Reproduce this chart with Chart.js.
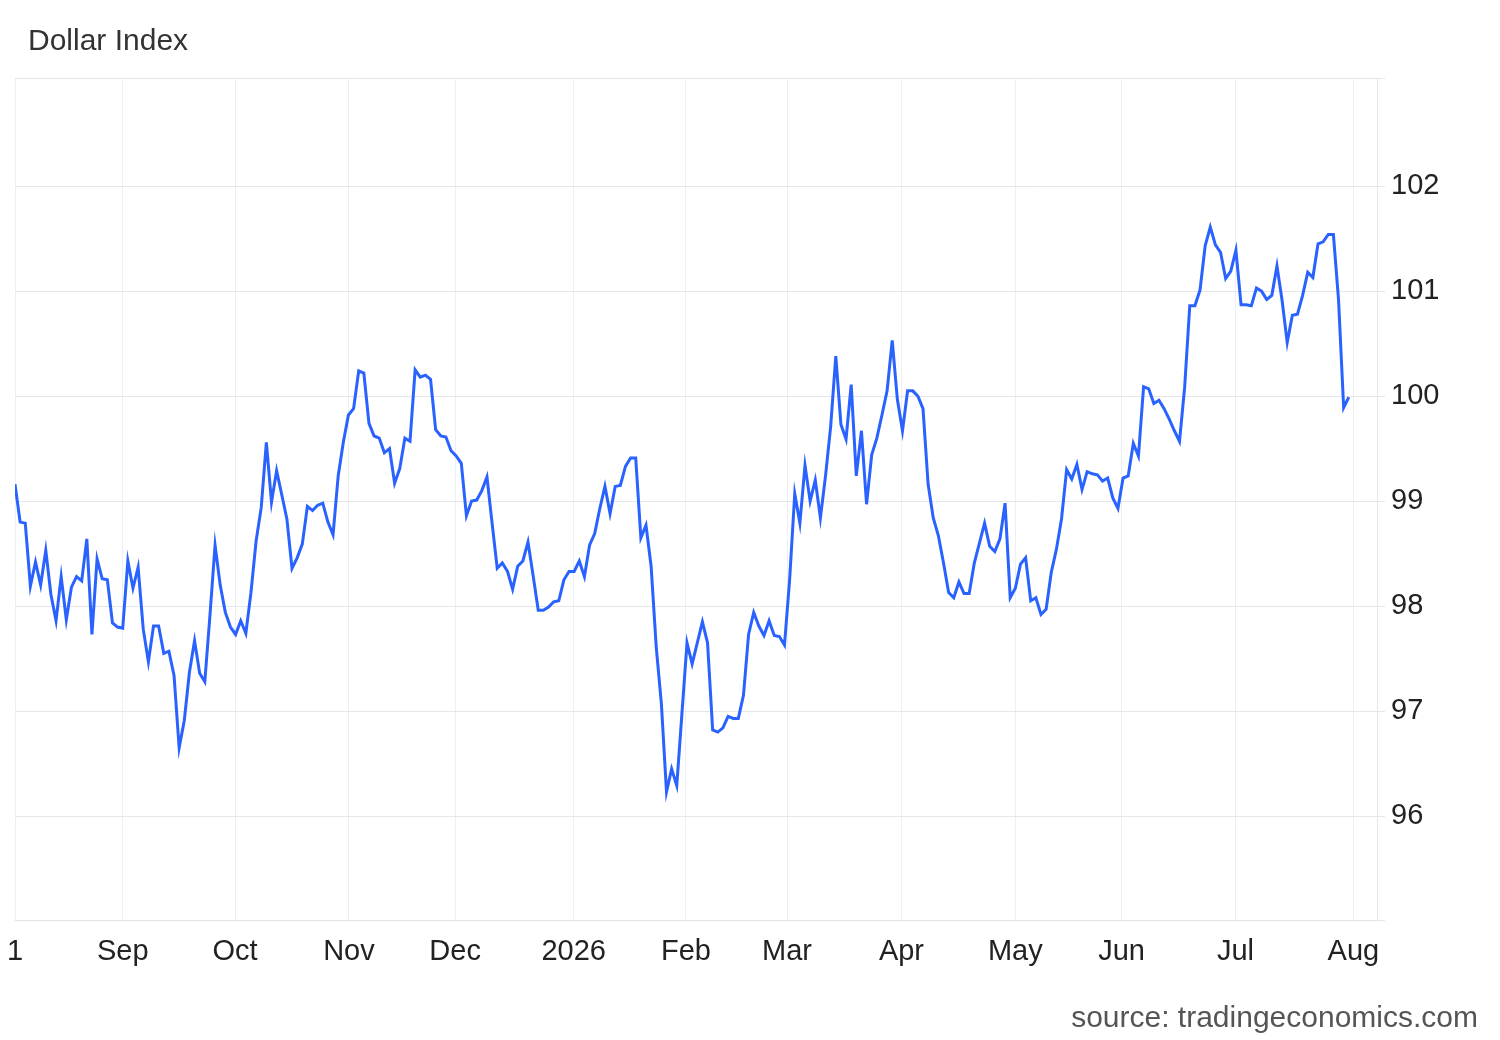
<!DOCTYPE html>
<html>
<head>
<meta charset="utf-8">
<title>Dollar Index</title>
<script src="https://cdn.jsdelivr.net/npm/chart.js@4.4.1/dist/chart.umd.min.js"></script>
<style>
  html, body { margin: 0; padding: 0; background: #fff; }
  #wrap { position: relative; width: 1500px; height: 1040px; }
  #title { position: absolute; left: 28px; top: 25px; font: 30px/30px "Liberation Sans", Arial, sans-serif; color: #333; }
  #source { position: absolute; right: 22px; top: 1002px; font: 30px/30px "Liberation Sans", Arial, sans-serif; color: #555; }
  canvas { position: absolute; left: 0; top: 0; }
</style>
</head>
<body>
<div id="wrap">
  <canvas id="dxyChart" width="1500" height="1040"></canvas>
  <div id="title">Dollar Index</div>
  <div id="source">source: tradingeconomics.com</div>
</div>
<script>
'use strict';

// daily closes, one per trading day, from Aug 1 2025 to Jul 31 2026
var dxyValues = [
  99.16, 98.80, 98.79, 98.19, 98.42, 98.20, 98.53, 98.11, 97.86, 98.28,
  97.87, 98.18, 98.28, 98.24, 98.64, 97.73, 98.45, 98.26, 98.25, 97.84,
  97.80, 97.79, 98.43, 98.17, 98.37, 97.78, 97.47, 97.81, 97.81, 97.55,
  97.57, 97.34, 96.65, 96.91, 97.37, 97.67, 97.36, 97.28, 97.91, 98.58,
  98.20, 97.94, 97.80, 97.73, 97.86, 97.74, 98.13, 98.62, 98.94, 99.56,
  98.99, 99.29, 99.06, 98.83, 98.36, 98.46, 98.59, 98.95, 98.91, 98.96,
  98.98, 98.80, 98.68, 99.24, 99.56, 99.82, 99.88, 100.24, 100.22, 99.74,
  99.62, 99.60, 99.46, 99.50, 99.17, 99.31, 99.60, 99.57, 100.25, 100.18,
  100.20, 100.16, 99.68, 99.62, 99.61, 99.48, 99.43, 99.36, 98.86, 99.00,
  99.01, 99.10, 99.23, 98.79, 98.36, 98.41, 98.33, 98.16, 98.38, 98.43,
  98.61, 98.29, 97.96, 97.96, 97.99, 98.04, 98.05, 98.25, 98.33, 98.33,
  98.43, 98.28, 98.58, 98.69, 98.93, 99.14, 98.88, 99.14, 99.15, 99.33,
  99.41, 99.41, 98.65, 98.77, 98.38, 97.61, 97.07, 96.23, 96.45, 96.29,
  96.97, 97.65, 97.45, 97.65, 97.85, 97.65, 96.82, 96.80, 96.84, 96.95,
  96.93, 96.93, 97.15, 97.73, 97.94, 97.81, 97.72, 97.86, 97.72, 97.71,
  97.63, 98.25, 99.07, 98.79, 99.34, 99.00, 99.20, 98.84, 99.24, 99.71,
  100.38, 99.73, 99.59, 100.11, 99.24, 99.67, 98.97, 99.44, 99.60, 99.82,
  100.05, 100.53, 99.97, 99.67, 100.05, 100.05, 100.00, 99.88, 99.16, 98.84,
  98.67, 98.41, 98.13, 98.08, 98.23, 98.12, 98.12, 98.41, 98.60, 98.79,
  98.57, 98.52, 98.64, 98.98, 98.08, 98.17, 98.40, 98.46, 98.05, 98.08,
  97.92, 97.97, 98.32, 98.54, 98.83, 99.30, 99.21, 99.35, 99.11, 99.28,
  99.26, 99.25, 99.19, 99.22, 99.03, 98.93, 99.22, 99.24, 99.55, 99.43,
  100.09, 100.07, 99.93, 99.96, 99.88, 99.78, 99.67, 99.57, 100.08, 100.86,
  100.86, 101.01, 101.43, 101.61, 101.44, 101.37, 101.12, 101.19, 101.39, 100.87,
  100.87, 100.86, 101.03, 101.00, 100.92, 100.96, 101.24, 100.91, 100.51, 100.77,
  100.78, 100.96, 101.18, 101.13, 101.45, 101.47, 101.54, 101.54, 100.92, 99.89,
  99.99
];

// month ticks, as positions on the trading-day axis
var monthTickPos = [0, 21, 42.9, 65.1, 85.8, 108.9, 130.8, 150.5, 172.8, 195, 215.7, 237.9, 260.9];
var monthTickLabels = ['1', 'Sep', 'Oct', 'Nov', 'Dec', '2026', 'Feb', 'Mar', 'Apr', 'May', 'Jun', 'Jul', 'Aug'];

var yTickValues = [96, 97, 98, 99, 100, 101, 102];

var points = dxyValues.map(function (v, i) { return { x: i, y: v }; });

var ctx = document.getElementById('dxyChart').getContext('2d');

new Chart(ctx, {
  type: 'line',
  data: {
    datasets: [{
      label: 'Dollar Index',
      data: points,
      borderColor: '#2962ff',
      borderWidth: 3,
      pointRadius: 0,
      tension: 0,
      fill: false
    }]
  },
  options: {
    responsive: false,
    animation: false,
    devicePixelRatio: 1,
    layout: { padding: { left: 15, top: 78, right: 0, bottom: 0 } },
    plugins: {
      legend: { display: false },
      tooltip: { enabled: false }
    },
    scales: {
      x: {
        type: 'linear',
        min: 0,
        max: 265.5,
        afterBuildTicks: function (scale) {
          scale.ticks = monthTickPos.map(function (p) { return { value: p }; });
        },
        afterFit: function (scale) {
          scale.height = 120;
          scale.paddingLeft = 0;
          scale.paddingRight = 0;
        },
        ticks: {
          autoSkip: false,
          maxRotation: 0,
          padding: 15,
          color: '#222',
          font: { family: '"Liberation Sans", Arial, sans-serif', size: 29 },
          callback: function (value, index) { return monthTickLabels[index]; }
        },
        grid: { color: '#eceff3', lineWidth: 1, drawTicks: false },
        border: { display: true, color: '#e3e3e3' }
      },
      y: {
        position: 'right',
        min: 95.01,
        max: 103.03,
        afterBuildTicks: function (scale) {
          // frame lines at both ends, labelled lines at whole numbers
          var t = [{ value: scale.min }];
          yTickValues.forEach(function (v) { t.push({ value: v }); });
          t.push({ value: scale.max });
          scale.ticks = t;
        },
        afterFit: function (scale) { scale.width = 123; },
        ticks: {
          padding: 6,
          color: '#222',
          font: { family: '"Liberation Sans", Arial, sans-serif', size: 29 },
          callback: function (value) {
            return yTickValues.indexOf(value) >= 0 ? String(value) : '';
          }
        },
        grid: { color: '#e6e6e6', lineWidth: 1, tickLength: 8 },
        border: { display: true, color: '#e6e6e6' }
      }
    }
  }
});
</script>
</body>
</html>
